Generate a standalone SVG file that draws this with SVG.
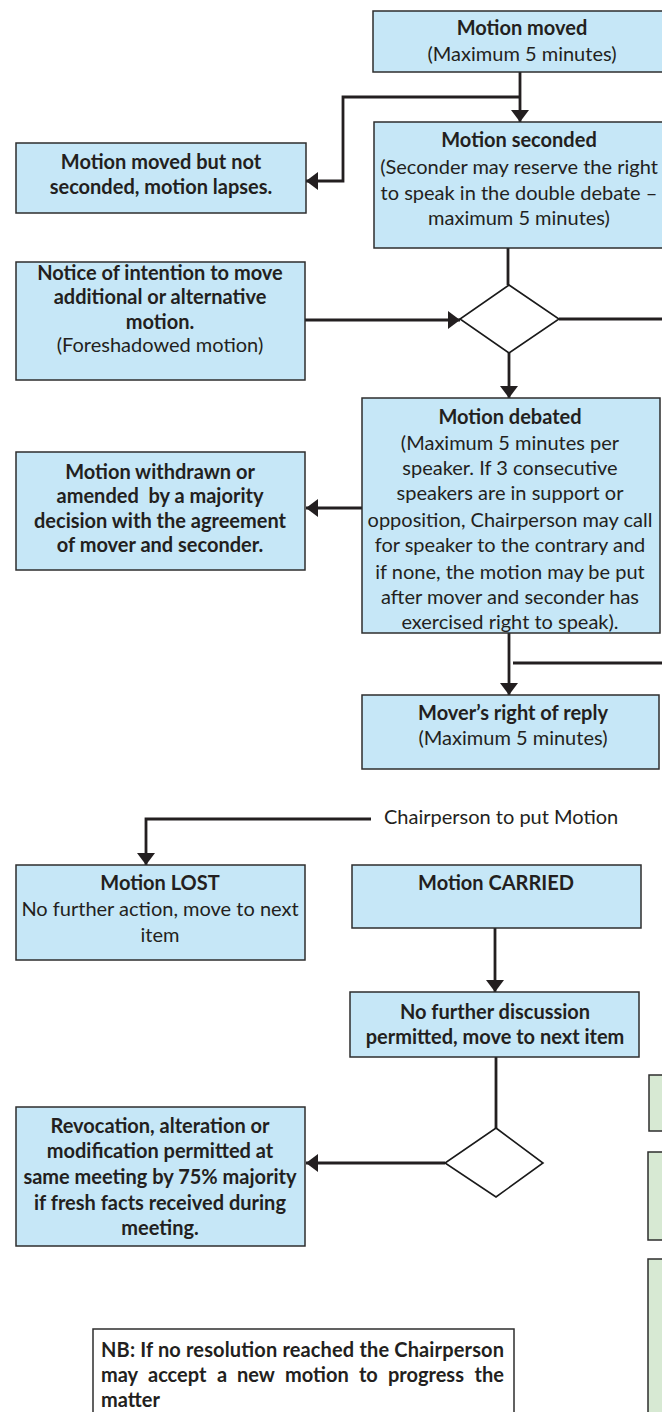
<svg xmlns="http://www.w3.org/2000/svg" width="662" height="1412" viewBox="0 0 662 1412">
<style>
.box{fill:#c6e7f7;stroke:#2e2e2e;stroke-width:1.5}
.green{fill:#d7e9d3;stroke:#2e2e2e;stroke-width:1.5}
.nb{fill:#ffffff;stroke:#2e2e2e;stroke-width:1.5}
.dia{fill:#ffffff;stroke:#1a1a1a;stroke-width:1.6}
.conn{fill:none;stroke:#231f20;stroke-width:2.8}
.arr{marker-end:url(#ah)}
text{font-family:Lato,"Open Sans","Liberation Sans",sans-serif;font-size:20px;fill:#231f20;text-anchor:middle}
.b{font-weight:bold}
.s{text-anchor:start}
.e{text-anchor:end}
</style>
<defs>
<marker id="ah" markerUnits="userSpaceOnUse" markerWidth="13" markerHeight="19" refX="12" refY="9" orient="auto">
<path d="M0,0 L12,9 L0,18 z" fill="#231f20"/>
</marker>
</defs>
<rect width="662" height="1412" fill="#ffffff"/>

<g id="connectors">
<path class="conn arr" d="M520,72 V122"/>
<path class="conn arr" d="M520,97 H343 V181 H306"/>
<path class="conn" d="M508,248 V285"/>
<path class="conn arr" d="M305,320 H460"/>
<path class="conn" d="M559,319 H662"/>
<path class="conn arr" d="M509,353 V398"/>
<path class="conn arr" d="M362,508 H306"/>
<path class="conn arr" d="M509,633 V695"/>
<path class="conn" d="M513,663 H662"/>
<path class="conn arr" d="M371,819 H146 V865"/>
<path class="conn arr" d="M495,928 V992"/>
<path class="conn" d="M496,1057 V1128"/>
<path class="conn arr" d="M445,1163 H306"/>
</g>

<g id="n_moved">
<rect class="box" x="373" y="11" width="300" height="61"/>
<text class="b" x="522" y="35">Motion moved</text>
<text x="522" y="61">(Maximum 5 minutes)</text>
</g>

<g id="n_notseconded">
<rect class="box" x="16" y="143" width="290" height="70"/>
<text class="b" x="161" y="169">Motion moved but not</text>
<text class="b" x="161" y="194">seconded, motion lapses.</text>
</g>

<g id="n_seconded">
<rect class="box" x="374" y="122" width="300" height="126"/>
<text class="b" x="519" y="147">Motion seconded</text>
<text x="519" y="174">(Seconder may reserve the right</text>
<text x="519" y="200">to speak in the double debate –</text>
<text x="519" y="225">maximum 5 minutes)</text>
</g>

<g id="n_notice">
<rect class="box" x="16" y="262" width="289" height="118"/>
<text class="b" x="160" y="280">Notice of intention to move</text>
<text class="b" x="160" y="304">additional or alternative</text>
<text class="b" x="160" y="329">motion.</text>
<text x="160" y="352">(Foreshadowed motion)</text>
</g>

<g id="d_decision1">
<polygon class="dia" points="509,285 559,319 509,353 460,319"/>
</g>

<g id="n_debated">
<rect class="box" x="362" y="398" width="298" height="235"/>
<text class="b" x="510" y="424">Motion debated</text>
<text x="510" y="450">(Maximum 5 minutes per</text>
<text x="510" y="475">speaker. If 3 consecutive</text>
<text x="510" y="500">speakers are in support or</text>
<text x="510" y="527">opposition, Chairperson may call</text>
<text x="510" y="552">for speaker to the contrary and</text>
<text x="510" y="579">if none, the motion may be put</text>
<text x="510" y="604">after mover and seconder has</text>
<text x="510" y="629">exercised right to speak).</text>
</g>

<g id="n_withdrawn">
<rect class="box" x="16" y="452" width="289" height="118"/>
<text class="b" x="160" y="479">Motion withdrawn or</text>
<text class="b" x="160" y="503" xml:space="preserve">amended  by a majority</text>
<text class="b" x="160" y="528">decision with the agreement</text>
<text class="b" x="160" y="552">of mover and seconder.</text>
</g>

<g id="n_mover">
<rect class="box" x="362" y="695" width="297" height="74"/>
<text class="b" x="513" y="720">Mover’s right of reply</text>
<text x="513" y="745">(Maximum 5 minutes)</text>
</g>

<g id="label_chair">
<text class="s" x="384" y="824">Chairperson to put Motion</text>
</g>

<g id="n_lost">
<rect class="box" x="16" y="865" width="289" height="95"/>
<text class="b" x="160" y="890">Motion LOST</text>
<text x="160" y="916">No further action, move to next</text>
<text x="160" y="942">item</text>
</g>

<g id="n_carried">
<rect class="box" x="352" y="865" width="289" height="63"/>
<text class="b" x="496" y="890">Motion CARRIED</text>
</g>

<g id="n_nofurther">
<rect class="box" x="350" y="992" width="289" height="65"/>
<text class="b" x="495" y="1019">No further discussion</text>
<text class="b" x="495" y="1044">permitted, move to next item</text>
</g>

<g id="d_decision2">
<polygon class="dia" points="496,1128 543,1163 496,1197 445,1163"/>
</g>

<g id="n_revocation">
<rect class="box" x="16" y="1107" width="289" height="139"/>
<text class="b" x="160" y="1133">Revocation, alteration or</text>
<text class="b" x="160" y="1158">modification permitted at</text>
<text class="b" x="160" y="1184">same meeting by 75% majority</text>
<text class="b" x="160" y="1210">if fresh facts received during</text>
<text class="b" x="160" y="1235">meeting.</text>
</g>

<g id="n_green1"><rect class="green" x="649" y="1075" width="40" height="56"/></g>
<g id="n_green2"><rect class="green" x="648" y="1152" width="40" height="88"/></g>
<g id="n_green3"><rect class="green" x="648" y="1259" width="40" height="200"/></g>

<g id="n_nb">
<rect class="nb" x="93" y="1329" width="421" height="100"/>
<text class="b s" x="101" y="1357" textLength="403" lengthAdjust="spacing">NB: If no resolution reached the Chairperson</text>
<text class="b s" y="1382"><tspan x="101">may</tspan><tspan x="148">accept</tspan><tspan x="217">a</tspan><tspan x="237">new</tspan><tspan x="285">motion</tspan><tspan x="359">to</tspan><tspan x="388">progress</tspan><tspan x="504" text-anchor="end">the</tspan></text>
<text class="b s" x="101" y="1407">matter</text>
</g>
</svg>
